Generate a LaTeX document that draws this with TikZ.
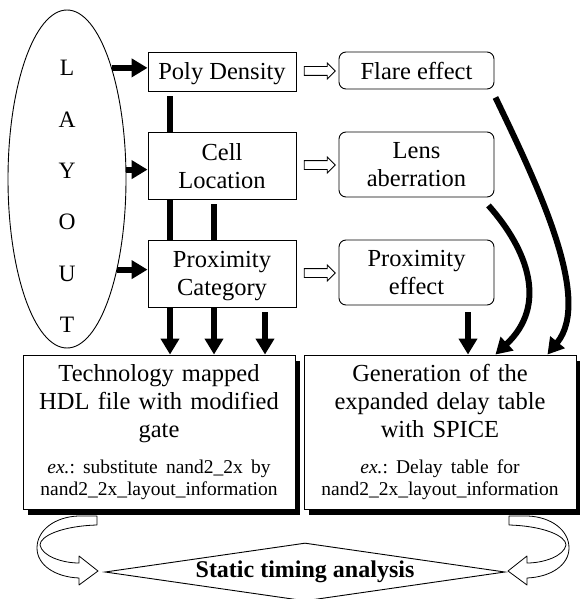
\documentclass[tikz,border=0pt]{standalone}
\usepackage{fontspec}
\setmainfont{Liberation Serif}
\usepackage{tikz}
\usetikzlibrary{arrows.meta,shapes.geometric,shapes.arrows,shadows,calc}
\frenchspacing

\begin{document}
\begin{tikzpicture}[x=1pt,y=-1pt,
  font=\fontsize{24.5}{28}\selectfont,
  blk/.style={draw, line width=0.9pt, minimum width=148pt, align=center, inner sep=2pt, text depth=-3pt},
  fx/.style={draw, line width=0.9pt, rounded corners=7pt, minimum width=155pt, align=center, inner sep=2pt, text depth=-3pt},
  bigbox/.style={draw, line width=0.9pt, fill=white, minimum height=154pt, text width=262pt, align=center, inner sep=5pt,
    drop shadow={shadow xshift=5pt, shadow yshift=-6pt, fill=black, opacity=1}},
  hollow/.style={single arrow, draw, line width=0.8pt, fill=white, inner sep=4pt, single arrow head extend=3.5pt, minimum height=31pt},
  bar/.style={line width=6pt},
  feed/.style={line width=6pt, -{Triangle[length=16pt,width=18pt]}},
  turnarrow/.style={draw, line width=0.8pt, fill=white, line join=round}]
\useasboundingbox (0,0) rectangle (580,599);
% LAYOUT
\node[draw, ellipse, line width=0.9pt, minimum width=118pt, minimum height=338pt, inner sep=0pt] (layout) at (67,179) {};
\node[font=\fontsize{23.5}{51.4}\selectfont, align=center] (word) at (67,196.5) {L\\A\\Y\\O\\U\\T};
% inputs
\node[blk, minimum height=39pt] (poly) at (222,71.5) {Poly Density};
\node[blk, minimum height=67pt] (cell) at (222,165.5) {Cell\\Location};
\node[blk, minimum height=67pt] (prox) at (222,273.5) {Proximity\\Category};
% effects
\node[fx, minimum height=37pt] (flare) at (416.5,70.5) {Flare effect};
\node[fx, minimum height=65pt] (lens) at (416.5,164.5) {Lens\\aberration};
\node[fx, minimum height=65pt] (proxeff) at (416.5,272.5) {Proximity\\effect};
\node[hollow] (h1) at ($(poly.east)!0.5!(flare.west)$) {};
\node[hollow] (h2) at ($(cell.east)!0.5!(lens.west)$) {};
\node[hollow] (h3) at ($(prox.east)!0.5!(proxeff.west)$) {};
\draw[feed] (layout.68) -- (layout.68 -| poly.west);
\draw[feed] (layout.9) -- (layout.9 -| cell.west);
\draw[feed] (layout.299) -- (layout.299 -| prox.west);
% columns
\coordinate (colA) at (170,0);
\coordinate (colB) at (214,0);
\coordinate (colC) at (265,0);
\coordinate (colD) at (468,0);
\draw[bar] ($(colA |- poly.south)+(0,5)$) -- (colA |- cell.north);
\draw[bar] (colA |- cell.south) -- (colA |- prox.north);
\draw[bar] ($(colB |- cell.south)+(0,5)$) -- (colB |- prox.north);
% turning arrows
\draw[turnarrow] (97,516) -- (97,525) .. controls (62,526) and (40,536) .. (40,545) .. controls (42,556) and (62,563) .. (79,563) -- (79,556) -- (98,571) -- (79,585) -- (79,578) .. controls (55,577) and (37,565) .. (37,548) .. controls (37,530) and (55,517) .. (78,516) -- cycle;
\begin{scope}[xshift=606pt, xscale=-1]
\draw[turnarrow] (97,516) -- (97,525) .. controls (62,526) and (40,536) .. (40,545) .. controls (42,556) and (62,563) .. (79,563) -- (79,556) -- (98,571) -- (79,585) -- (79,578) .. controls (55,577) and (37,565) .. (37,548) .. controls (37,530) and (55,517) .. (78,516) -- cycle;
\end{scope}
% BOT
\node[bigbox] (techbox) at (159,432) {Technology mapped\\HDL file with modified\\gate\par\vspace{14pt}{\fontsize{19.5}{22}\selectfont\textit{ex.}: substitute nand2\_2x by\\nand2\_2x\_layout\_information\par}};
\node[bigbox] (spicebox) at (440,432) {Generation of the\\expanded delay table\\with SPICE\par\vspace{14pt}{\fontsize{19.5}{22}\selectfont\textit{ex.}: Delay table for\\nand2\_2x\_layout\_information\par}};
\draw[feed] (colA |- prox.south) -- (colA |- techbox.north);
\draw[feed] (colB |- prox.south) -- (colB |- techbox.north);
\draw[feed] ($(colC |- prox.south)+(0,5)$) -- (colC |- techbox.north);
\draw[feed] ($(colD |- proxeff.south)+(0,7)$) -- (colD |- spicebox.north);
\draw[feed] ($(lens.south east)+(-6,8)$) .. controls (528,250) and (548,305) .. ($(spicebox.north east)+(-81,0)$);
\draw[feed] ($(flare.south east)+(1,8)$) .. controls (540,190) and (592,300) .. ($(spicebox.north east)+(-29,0)$);
% analysis
\node[diamond, draw, line width=0.9pt, fill=white, shape aspect=6.9, inner sep=1pt, minimum width=400pt, minimum height=58pt, font=\fontsize{24}{28}\selectfont\bfseries] (sta) at (305,572) {Static timing analysis};
\end{tikzpicture}
\end{document}
